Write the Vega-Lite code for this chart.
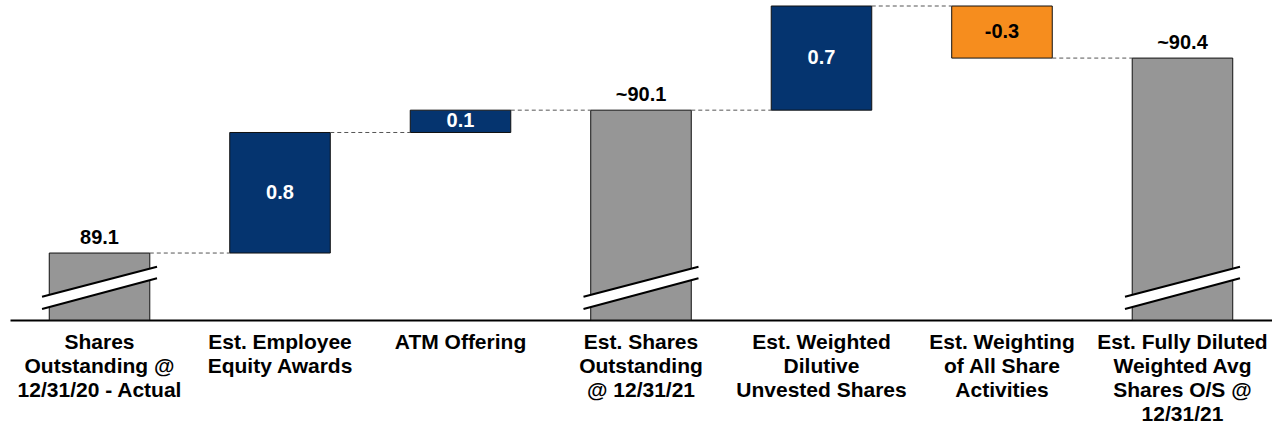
{
  "$schema": "https://vega.github.io/schema/vega-lite/v6.json",
  "autosize": {"type": "none"},
  "padding": {"left": 10, "top": 6, "right": 0, "bottom": 109},
  "width": 1262,
  "height": 314,
  "background": "white",
  "config": {
    "view": {"stroke": null},
    "font": "Liberation Sans",
    "text": {"font": "Liberation Sans", "fontWeight": "bold", "fontSize": 20}
  },
  "data": {
    "values": [
      {"cat": "Shares|Outstanding @|12/31/20 - Actual", "kind": "total", "start": 88.65, "end": 89.10, "label": "89.1", "next": "Est. Employee|Equity Awards"},
      {"cat": "Est. Employee|Equity Awards", "kind": "inc", "start": 89.10, "end": 89.91, "label": "0.8", "next": "ATM Offering"},
      {"cat": "ATM Offering", "kind": "inc", "start": 89.91, "end": 90.06, "label": "0.1", "next": "Est. Shares|Outstanding|@ 12/31/21"},
      {"cat": "Est. Shares|Outstanding|@ 12/31/21", "kind": "total", "start": 88.65, "end": 90.06, "label": "~90.1", "next": "Est. Weighted|Dilutive|Unvested Shares"},
      {"cat": "Est. Weighted|Dilutive|Unvested Shares", "kind": "inc", "start": 90.06, "end": 90.76, "label": "0.7", "next": "Est. Weighting|of All Share|Activities"},
      {"cat": "Est. Weighting|of All Share|Activities", "kind": "dec", "start": 90.76, "end": 90.41, "label": "-0.3", "next": "Est. Fully Diluted|Weighted Avg|Shares O/S @|12/31/21"},
      {"cat": "Est. Fully Diluted|Weighted Avg|Shares O/S @|12/31/21", "kind": "total", "start": 88.65, "end": 90.41, "label": "~90.4"}
    ]
  },
  "encoding": {
    "x": {
      "field": "cat",
      "type": "nominal",
      "scale": {
        "domain": [
          "Shares|Outstanding @|12/31/20 - Actual",
          "Est. Employee|Equity Awards",
          "ATM Offering",
          "Est. Shares|Outstanding|@ 12/31/21",
          "Est. Weighted|Dilutive|Unvested Shares",
          "Est. Weighting|of All Share|Activities",
          "Est. Fully Diluted|Weighted Avg|Shares O/S @|12/31/21"
        ],
        "paddingInner": 0.443,
        "paddingOuter": 0.2175
      },
      "axis": {
        "title": null,
        "labelAngle": 0,
        "labelExpr": "split(datum.label, '|')",
        "labelFont": "Liberation Sans",
        "labelFontWeight": "bold",
        "labelFontSize": 21,
        "labelColor": "black",
        "labelLineHeight": 24,
        "labelPadding": 11,
        "labelLimit": 400,
        "labelOverlap": false,
        "ticks": false,
        "tickSize": 0,
        "domain": true,
        "domainColor": "black",
        "domainWidth": 2,
        "grid": false
      }
    }
  },
  "layer": [
    {
      "mark": {"type": "bar", "stroke": "#111111", "strokeWidth": 1},
      "encoding": {
        "y": {"field": "start", "type": "quantitative", "scale": {"domain": [88.65, 90.76], "nice": false, "zero": false}, "axis": null},
        "y2": {"field": "end"},
        "color": {"field": "kind", "type": "nominal", "scale": {"domain": ["total", "inc", "dec"], "range": ["#969696", "#05346F", "#F68D1E"]}, "legend": null}
      }
    },
    {
      "transform": [{"filter": "datum.kind === 'total'"}],
      "mark": {"type": "point", "shape": "M-1,0.157L1,-0.365L1,-0.163L-1,0.37Z", "filled": true, "fill": "white", "strokeWidth": 0, "size": 13225, "opacity": 1},
      "encoding": {
        "y": {"datum": 88.867, "type": "quantitative"}
      }
    },
    {
      "transform": [{"filter": "datum.kind === 'total'"}],
      "mark": {"type": "point", "shape": "M-1,0.157L1,-0.365M-1,0.37L1,-0.163", "filled": false, "stroke": "black", "strokeWidth": 2, "size": 13225, "opacity": 1},
      "encoding": {
        "y": {"datum": 88.867, "type": "quantitative"}
      }
    },
    {
      "transform": [{"filter": "isValid(datum.next)"}],
      "mark": {"type": "rule", "stroke": "#555555", "strokeWidth": 1, "strokeDash": [4, 3]},
      "encoding": {
        "x": {"field": "cat", "type": "nominal", "bandPosition": 1},
        "x2": {"field": "next", "bandPosition": 0},
        "y": {"field": "end", "type": "quantitative"}
      }
    },
    {
      "transform": [{"filter": "datum.kind === 'total'"}],
      "mark": {"type": "text", "baseline": "alphabetic", "dy": -9, "color": "black"},
      "encoding": {
        "y": {"field": "end", "type": "quantitative"},
        "text": {"field": "label", "type": "nominal"}
      }
    },
    {
      "transform": [
        {"filter": "datum.kind !== 'total'"},
        {"fold": ["start", "end"], "as": ["edge", "v"]}
      ],
      "mark": {"type": "text", "baseline": "middle"},
      "encoding": {
        "y": {"aggregate": "mean", "field": "v", "type": "quantitative"},
        "text": {"field": "label", "type": "nominal"},
        "detail": {"field": "kind", "type": "nominal"},
        "color": {"condition": {"test": "datum.kind === 'inc'", "value": "white"}, "value": "black"}
      }
    }
  ]
}
